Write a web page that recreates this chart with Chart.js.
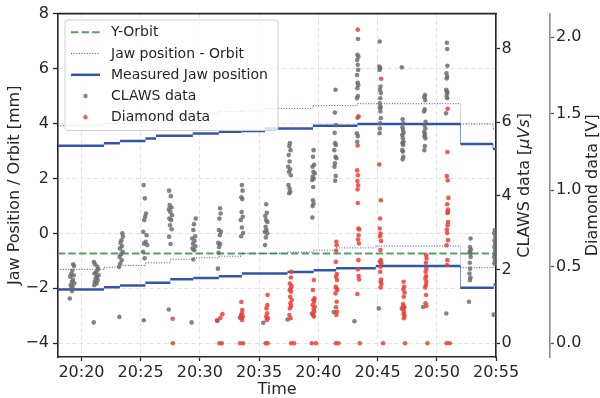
<!DOCTYPE html>
<html>
<head>
<meta charset="utf-8">
<script src="https://cdn.jsdelivr.net/npm/chart.js@4.4.1/dist/chart.umd.min.js"></script>
<style>
  html, body { margin: 0; padding: 0; background: #ffffff; }
  #wrap { width: 600px; height: 398px; }
</style>
</head>
<body>
<div id="wrap"><canvas id="chart" width="600" height="398"></canvas></div>
<script>
// Times are minutes after 20:00
const xTicks = [20, 25, 30, 35, 40, 45, 50, 55];
const jawTicks = [-4, -2, 0, 2, 4, 6, 8];
const clawsTicks = [0, 2, 4, 6, 8];
const diamondTicks = [0, 0.5, 1, 1.5, 2];

const orbitTimes = [18.0, 55.0];
const orbitValues = [-0.73, -0.73];

// upper jaw (step starts)
const upperTimes = [18.0, 21.9, 23.25, 25.4, 26.3, 29.4, 31.6, 33.5, 35.5, 39.55, 43.3, 52.0, 54.75, 55.0];
const upperMeasured = [3.19, 3.28, 3.36, 3.45, 3.55, 3.64, 3.70, 3.73, 3.82, 3.92, 3.98, 3.25, 3.07, 3.07];
const upperMinusOrbit = [3.92, 4.01, 4.09, 4.18, 4.28, 4.37, 4.43, 4.46, 4.55, 4.65, 4.72, 3.98, 3.80, 3.80];

// lower jaw (step starts)
const lowerTimes = [18.0, 21.9, 23.25, 25.4, 27.5, 29.45, 31.6, 33.55, 37.4, 39.6, 41.5, 44.85, 52.0, 54.8, 55.0];
const lowerMeasured = [-2.04, -1.96, -1.90, -1.80, -1.67, -1.62, -1.56, -1.46, -1.41, -1.34, -1.27, -1.19, -1.98, -1.86, -1.86];
const lowerMinusOrbit = [-1.31, -1.23, -1.17, -1.07, -0.94, -0.89, -0.83, -0.73, -0.68, -0.61, -0.53, -0.46, -1.25, -1.10, -1.10];

// [time, value in uVs]
const clawsData = [
  [19.30, 2.14], [19.38, 2.09], [19.22, 1.96], [19.12, 1.87], [19.35, 1.84], [19.05, 1.80], [19.28, 1.72],
  [19.18, 1.66], [19.40, 1.62], [19.10, 1.57], [19.25, 1.52], [19.15, 1.48], [19.20, 1.41], [19.02, 1.21],
  [21.05, 2.20], [21.15, 2.14], [21.35, 2.07], [21.40, 2.00], [21.25, 1.93], [21.10, 1.89], [21.45, 1.84],
  [21.30, 1.80], [21.20, 1.75], [21.38, 1.71], [21.12, 1.66], [21.28, 1.62], [21.08, 1.57], [21.04, 0.56],
  [23.45, 2.98], [23.50, 2.89], [23.38, 2.79], [23.30, 2.72], [23.42, 2.63], [23.25, 2.57], [23.48, 2.48],
  [23.35, 2.41], [23.22, 2.34], [23.40, 2.25], [23.28, 2.16], [23.18, 2.07], [23.20, 0.71],
  [25.25, 4.29], [25.35, 3.93], [25.45, 3.52], [25.38, 3.43], [25.30, 3.34], [25.22, 3.02], [25.50, 2.93],
  [25.42, 2.75], [25.28, 2.70], [25.55, 2.66], [25.20, 2.48], [25.33, 2.30], [25.26, 0.62],
  [27.40, 4.14], [27.55, 3.99], [27.45, 3.75], [27.60, 3.68], [27.38, 3.63], [27.50, 3.56], [27.65, 3.47],
  [27.42, 3.38], [27.58, 3.34], [27.48, 3.20], [27.62, 3.09], [27.40, 2.89], [27.52, 2.69], [27.37, 0.91],
  [29.65, 3.38], [29.50, 3.23], [29.45, 3.07], [29.60, 2.90], [29.35, 2.84], [29.55, 2.78], [29.42, 2.70],
  [29.62, 2.63], [29.38, 2.57], [29.52, 2.52], [29.45, 2.27], [29.30, 0.56],
  [31.70, 3.66], [31.75, 3.52], [31.65, 3.38], [31.60, 3.07], [31.78, 3.02], [31.68, 2.93], [31.55, 2.72],
  [31.72, 2.69], [31.62, 2.61], [31.58, 2.45], [31.52, 2.02], [31.48, 0.60],
  [33.55, 4.29], [33.60, 4.14], [33.50, 3.96], [33.58, 3.91], [33.52, 3.56], [33.62, 3.43], [33.45, 3.34],
  [33.55, 3.14], [33.65, 2.99], [33.48, 2.90], [33.38, 0.69],
  [35.60, 3.77], [35.65, 3.54], [35.52, 3.45], [35.58, 3.34], [35.70, 3.29], [35.55, 3.16], [35.62, 3.07],
  [35.48, 3.02], [35.68, 2.98], [35.57, 2.87], [35.50, 2.66], [35.35, 0.55],
  [37.60, 5.43], [37.55, 5.35], [37.65, 5.24], [37.50, 5.11], [37.58, 4.93], [37.45, 4.79], [37.62, 4.72],
  [37.52, 4.65], [37.68, 4.56], [37.48, 4.29], [37.57, 4.20], [37.63, 4.11], [37.54, 4.07], [37.40, 0.64],
  [39.60, 5.24], [39.55, 5.06], [39.65, 4.84], [39.50, 4.79], [39.58, 4.65], [39.70, 4.61], [39.52, 4.52],
  [39.62, 4.47], [39.48, 4.43], [39.57, 4.24], [39.55, 3.88], [39.60, 3.79], [39.52, 3.72], [39.50, 3.41], [39.45, 0.80],
  [41.45, 6.88], [41.40, 6.26], [41.50, 5.92], [41.38, 5.71], [41.42, 5.43], [41.48, 5.38], [41.35, 5.24],
  [41.45, 5.06], [41.52, 5.02], [41.40, 4.88], [41.36, 4.79], [41.47, 4.54], [41.42, 4.41], [41.30, 0.84],
  [43.35, 8.26], [43.30, 7.83], [43.38, 7.78], [43.28, 7.69], [43.33, 7.56], [43.36, 7.42], [43.27, 7.28],
  [43.32, 7.07], [43.37, 7.01], [43.29, 6.92], [43.34, 6.71], [43.26, 6.65], [43.31, 6.12], [43.25, 5.70],
  [43.33, 5.62], [43.28, 5.47], [43.05, 0.59],
  [45.18, 8.19], [45.15, 7.51], [45.22, 7.47], [45.17, 7.42], [45.25, 6.97], [45.20, 6.88], [45.28, 6.79],
  [45.23, 6.65], [45.19, 6.51], [45.26, 6.42], [45.21, 6.38], [45.24, 6.29], [45.27, 6.11], [45.22, 5.97],
  [45.20, 5.83], [45.18, 5.70], [45.10, 0.94],
  [47.05, 7.49], [47.12, 6.08], [47.18, 5.97], [47.10, 5.86], [47.15, 5.79], [47.20, 5.71], [47.08, 5.65],
  [47.14, 5.56], [47.19, 5.47], [47.11, 5.43], [47.16, 5.38], [47.09, 5.24], [47.13, 5.20], [47.17, 5.06],
  [47.12, 4.99], [47.05, 0.94],
  [49.00, 6.74], [48.95, 6.68], [49.02, 6.60], [48.98, 6.35], [48.93, 6.29], [49.05, 6.01], [48.97, 5.92],
  [49.03, 5.83], [48.94, 5.74], [49.00, 5.68], [48.96, 5.62], [49.04, 5.56], [48.99, 5.35], [48.95, 5.24], [48.85, 0.98],
  [50.85, 8.16], [50.88, 7.99], [50.90, 7.53], [50.82, 7.33], [50.87, 7.24], [50.84, 7.19], [50.80, 6.88],
  [50.86, 6.83], [50.89, 6.79], [50.83, 6.71], [50.88, 6.65], [50.78, 6.24], [50.80, 0.80],
  [52.85, 2.84], [52.80, 2.61], [52.88, 2.54], [52.78, 2.48], [52.83, 2.43], [52.86, 2.34], [52.79, 2.18],
  [52.82, 2.02], [52.76, 1.89], [52.84, 1.78], [52.80, 1.71], [52.72, 1.12],
  [54.90, 3.07], [54.85, 2.98], [54.95, 2.89], [54.88, 2.79], [54.92, 2.70], [54.86, 2.61], [54.94, 2.52],
  [54.89, 2.43], [54.84, 2.34], [54.91, 2.25], [54.87, 2.16], [54.80, 0.77]
];

// [time, value in V]
const diamondData = [
  [27.70, 0.16], [27.72, 0.0],
  [31.45, 0.15], [31.72, 0.165], [31.90, 0.19], [31.65, 0.0], [31.85, 0.0],
  [33.50, 0.27], [33.58, 0.217], [33.55, 0.196], [33.48, 0.185], [33.62, 0.174], [33.52, 0.163], [33.56, 0.152],
  [33.40, 0.0], [33.65, 0.0],
  [35.72, 0.315], [35.70, 0.25], [35.62, 0.228], [35.68, 0.196], [35.60, 0.174], [35.74, 0.163], [35.65, 0.152],
  [35.55, 0.0], [35.72, 0.0],
  [37.72, 0.467], [37.68, 0.43], [37.60, 0.39], [37.74, 0.374], [37.66, 0.359], [37.58, 0.348], [37.70, 0.337],
  [37.62, 0.304], [37.76, 0.282], [37.64, 0.261], [37.70, 0.243], [37.60, 0.228], [37.56, 0.185], [37.66, 0.163],
  [37.70, 0.0], [37.95, 0.0],
  [39.62, 0.413], [39.55, 0.348], [39.68, 0.293], [39.58, 0.282], [39.65, 0.271], [39.52, 0.25], [39.70, 0.239],
  [39.60, 0.222], [39.66, 0.206], [39.56, 0.185], [39.63, 0.174], [39.45, 0.0], [39.80, 0.0],
  [41.52, 0.663], [41.55, 0.641], [41.50, 0.604], [41.48, 0.532], [41.56, 0.452], [41.50, 0.434], [41.58, 0.413],
  [41.47, 0.369], [41.53, 0.359], [41.60, 0.348], [41.45, 0.326], [41.55, 0.271], [41.49, 0.235], [41.57, 0.206],
  [41.52, 0.185], [41.48, 0.0], [41.70, 0.0],
  [43.33, 2.05], [43.40, 1.483], [43.32, 1.293], [43.28, 1.13], [43.34, 1.098], [43.30, 1.06], [43.36, 1.033],
  [43.31, 1.006], [43.33, 0.917], [43.38, 0.75], [43.45, 0.744], [43.40, 0.706], [43.35, 0.678], [43.43, 0.652],
  [43.38, 0.543], [43.34, 0.483], [43.40, 0.439], [43.44, 0.417], [43.30, 0.322], [43.50, 0.0],
  [45.30, 1.729], [45.15, 1.168], [45.28, 0.935], [45.22, 0.815], [45.18, 0.75], [45.26, 0.717], [45.20, 0.70],
  [45.30, 0.669], [45.24, 0.609], [45.28, 0.543], [45.20, 0.532], [45.32, 0.522], [45.25, 0.50], [45.22, 0.467],
  [45.30, 0.417], [45.27, 0.402], [45.33, 0.387], [45.26, 0.365], [45.47, 0.0],
  [47.20, 0.402], [47.25, 0.369], [47.18, 0.352], [47.28, 0.33], [47.22, 0.304], [47.15, 0.256], [47.20, 0.243],
  [47.26, 0.235], [47.17, 0.222], [47.24, 0.206], [47.19, 0.191], [47.28, 0.178], [47.22, 0.163], [47.33, 0.0],
  [49.10, 0.576], [49.14, 0.554], [49.08, 0.526], [49.12, 0.489], [49.06, 0.467], [49.10, 0.439], [49.04, 0.424],
  [49.12, 0.402], [49.08, 0.38], [49.02, 0.365], [49.10, 0.315], [49.05, 0.261], [49.12, 0.243], [49.22, 0.0],
  [50.92, 1.533], [50.90, 1.25], [50.85, 1.093], [50.92, 1.065], [50.98, 0.95], [50.88, 0.909], [50.94, 0.874],
  [50.95, 0.858], [50.90, 0.852], [50.96, 0.793], [50.92, 0.772], [50.85, 0.744], [50.88, 0.721], [50.95, 0.674],
  [50.83, 0.641], [50.90, 0.543], [50.86, 0.511], [50.83, 0.0], [51.10, 0.0]
];

const TEXT = "#262626";
const BLUE = "#3354a8";
const BLUE_FAINT = "rgba(51,84,168,0.35)";
const GREEN = "#55a060";
const GRAY_PT = "rgba(105,105,105,0.82)";
const RED_PT = "rgba(240,62,52,0.85)";
const FONT = "'DejaVu Sans', sans-serif";

Chart.defaults.font.family = FONT;
Chart.defaults.color = TEXT;

// a step series as points: hold each value until the next step time
const stepPoints = (ts, vs) => {
  const out = [];
  ts.forEach((t, i) => {
    if (i > 0) out.push({ x: t, y: vs[i - 1] });
    out.push({ x: t, y: vs[i] });
  });
  return out;
};
const pairs = (arr) => arr.map(([x, y]) => ({ x, y }));
const setTicks = (vals) => (scale) => { scale.ticks = vals.map((v) => ({ value: v })); };

// the jumps between steps are only faintly visible in the original
const isJump = (c) => c.p0.parsed.y !== c.p1.parsed.y;
const jumpStyle = {
  borderColor: (c) => (isJump(c) ? BLUE_FAINT : undefined),
  borderWidth: (c) => (isJump(c) ? 0.8 : undefined),
  borderDash: (c) => (isJump(c) ? [] : undefined)
};

// legend drawn inside the plot like the original
const boxLegend = {
  id: "boxLegend",
  afterDraw(chart) {
    const ctx = chart.ctx;
    const items = chart.data.datasets
      .filter((d) => d.legendRow !== undefined)
      .sort((a, b) => a.legendRow - b.legendRow);
    const bx = 65, by = 20, bw = 213, bh = 110.5, r = 3;
    ctx.save();
    ctx.beginPath();
    ctx.roundRect(bx, by, bw, bh, r);
    ctx.fillStyle = "rgba(255,255,255,0.8)";
    ctx.fill();
    ctx.lineWidth = 1;
    ctx.strokeStyle = "#d0d0d0";
    ctx.stroke();
    items.forEach((d, i) => {
      const cy = 32.3 + i * 21.25;
      if (d.showLine) {
        ctx.beginPath();
        ctx.setLineDash(d.borderDash || []);
        ctx.strokeStyle = d.borderColor;
        ctx.lineWidth = d.borderWidth;
        ctx.moveTo(71, cy);
        ctx.lineTo(100, cy);
        ctx.stroke();
        ctx.setLineDash([]);
      } else {
        ctx.beginPath();
        ctx.fillStyle = d.pointBackgroundColor;
        ctx.arc(85.5, cy, 2.2, 0, Math.PI * 2);
        ctx.fill();
      }
      ctx.fillStyle = TEXT;
      ctx.font = "14px " + FONT;
      ctx.textAlign = "left";
      ctx.textBaseline = "middle";
      ctx.fillText(d.label, 111, cy + 0.5);
    });
    ctx.restore();
  }
};

// top spine and the two right-hand axis titles (read bottom to top)
const frameAndTitles = {
  id: "frameAndTitles",
  afterDraw(chart) {
    const ctx = chart.ctx;
    const a = chart.chartArea;
    ctx.save();
    ctx.strokeStyle = TEXT;
    ctx.lineWidth = 1.6;
    ctx.beginPath();
    ctx.moveTo(a.left - 0.8, a.top);
    ctx.lineTo(a.right + 0.8, a.top);
    ctx.stroke();

    const drawTitle = (parts, cx, cy) => {
      ctx.save();
      ctx.translate(cx, cy);
      ctx.rotate(-Math.PI / 2);
      ctx.fillStyle = TEXT;
      ctx.textBaseline = "middle";
      ctx.textAlign = "left";
      let total = 0;
      parts.forEach((p) => {
        ctx.font = (p.italic ? "italic " : "") + "16px " + FONT;
        p.w = ctx.measureText(p.text).width;
        total += p.w;
      });
      let x = -total / 2;
      parts.forEach((p) => {
        ctx.font = (p.italic ? "italic " : "") + "16px " + FONT;
        ctx.fillText(p.text, x, 0);
        x += p.w;
      });
      ctx.restore();
    };
    const midY = (a.top + a.bottom) / 2;
    drawTitle([{ text: "CLAWS data [" }, { text: "\u03bcVs", italic: true }, { text: "]" }], 524.5, midY);
    drawTitle([{ text: "Diamond data [V]" }], 592.5, midY);
    ctx.restore();
  }
};

const ctx = document.getElementById("chart").getContext("2d");
new Chart(ctx, {
  type: "scatter",
  data: {
    datasets: [
      {
        label: "Diamond data",
        data: pairs(diamondData),
        yAxisID: "yD",
        showLine: false,
        pointRadius: 2.3,
        pointBorderWidth: 0,
        pointBackgroundColor: RED_PT,
        legendRow: 4
      },
      {
        label: "CLAWS data",
        data: pairs(clawsData),
        yAxisID: "yC",
        showLine: false,
        pointRadius: 2.3,
        pointBorderWidth: 0,
        pointBackgroundColor: GRAY_PT,
        legendRow: 3
      },
      {
        label: "Measured Jaw position",
        data: stepPoints(upperTimes, upperMeasured),
        yAxisID: "y",
        showLine: true,
        borderColor: BLUE,
        borderWidth: 2.5,
        pointRadius: 0,
        segment: jumpStyle,
        legendRow: 2
      },
      {
        label: "Measured Jaw position (lower)",
        data: stepPoints(lowerTimes, lowerMeasured),
        yAxisID: "y",
        showLine: true,
        borderColor: BLUE,
        borderWidth: 2.5,
        pointRadius: 0,
        segment: jumpStyle
      },
      {
        label: "Jaw position - Orbit",
        data: stepPoints(upperTimes, upperMinusOrbit),
        yAxisID: "y",
        showLine: true,
        borderColor: BLUE,
        borderWidth: 1,
        borderDash: [1, 1.65],
        pointRadius: 0,
        segment: jumpStyle,
        legendRow: 1
      },
      {
        label: "Jaw position - Orbit (lower)",
        data: stepPoints(lowerTimes, lowerMinusOrbit),
        yAxisID: "y",
        showLine: true,
        borderColor: BLUE,
        borderWidth: 1,
        borderDash: [1, 1.65],
        pointRadius: 0,
        segment: jumpStyle
      },
      {
        label: "Y-Orbit",
        data: pairs(orbitTimes.map((t, i) => [t, orbitValues[i]])),
        yAxisID: "y",
        showLine: true,
        borderColor: GREEN,
        borderWidth: 2,
        borderDash: [7.4, 3.2],
        pointRadius: 0,
        legendRow: 0
      }
    ]
  },
  options: {
    responsive: false,
    animation: false,
    devicePixelRatio: 1,
    layout: { padding: { top: 13, left: 0, right: 0, bottom: 0 } },
    plugins: {
      legend: { display: false },
      tooltip: { enabled: false }
    },
    scales: {
      x: {
        type: "linear",
        position: "bottom",
        min: 18.02,
        max: 55,
        afterBuildTicks: setTicks(xTicks),
        afterFit: (s) => { s.height = 41; },
        ticks: {
          autoSkip: false,
          maxRotation: 0,
          padding: 2.5,
          font: { size: 16 },
          callback: (v) => "20:" + String(v).padStart(2, "0")
        },
        grid: { color: "#e2e2e2", lineWidth: 1, tickColor: TEXT, tickLength: 4, tickWidth: 1.3 },
        border: { color: TEXT, width: 1.6, dash: [4, 3] },
        title: { display: true, text: "Time", font: { size: 16, lineHeight: 1.0 }, padding: 0 }
      },
      y: {
        type: "linear",
        position: "left",
        min: -4.5,
        max: 8,
        afterBuildTicks: setTicks(jawTicks),
        afterFit: (s) => { s.width = 58; },
        ticks: {
          padding: 4,
          font: { size: 16 },
          callback: (v) => String(v).replace("-", "\u2212")
        },
        grid: { color: "#e2e2e2", lineWidth: 1, tickColor: TEXT, tickLength: 5, tickWidth: 1.3 },
        border: { color: TEXT, width: 1.6, dash: [4, 3] },
        title: {
          display: true,
          text: "Jaw Position / Orbit [mm]",
          font: { size: 16 },
          padding: { top: 4.8, bottom: 0 }
        }
      },
      yC: {
        type: "linear",
        position: "right",
        weight: 0,
        min: -0.38,
        max: 8.95,
        afterBuildTicks: setTicks(clawsTicks),
        afterFit: (s) => { s.width = 54; },
        ticks: { padding: 1.5, font: { size: 16 } },
        grid: { drawOnChartArea: false, color: TEXT, tickColor: TEXT, tickLength: 4, tickWidth: 1.3 },
        border: { color: TEXT, width: 1.6 }
      },
      yD: {
        type: "linear",
        position: "right",
        weight: 1,
        min: -0.09,
        max: 2.155,
        afterBuildTicks: setTicks(diamondTicks),
        afterFit: (s) => { s.width = 50; },
        ticks: { padding: 2, font: { size: 16 }, callback: (v) => v.toFixed(1) },
        grid: { drawOnChartArea: false, color: "#555555", tickColor: "#555555", tickLength: 4, tickWidth: 1.3 },
        border: { color: "#8c8c8c", width: 1.6 }
      }
    }
  },
  plugins: [boxLegend, frameAndTitles]
});
</script>
</body>
</html>
